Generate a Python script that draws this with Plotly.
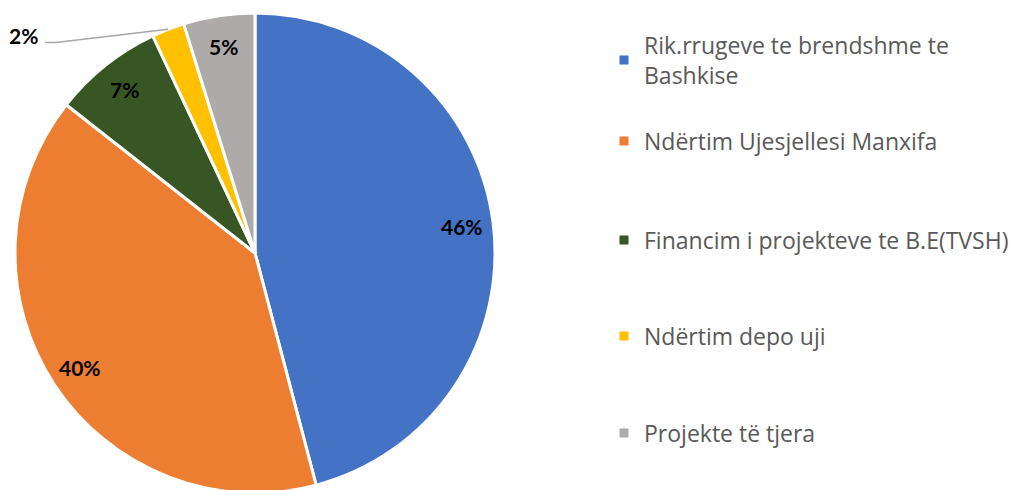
import math
import plotly.graph_objects as go

labels = ["Rik.rrugeve te brendshme te<br>Bashkise",
          "Ndërtim Ujesjellesi Manxifa",
          "Financim i projekteve te B.E(TVSH)",
          "Ndërtim depo uji",
          "Projekte të tjera"]
values = [45.9, 39.7, 7.4, 2.2, 4.8]
colors = ["#4472C4", "#ED7D31", "#375623", "#FFC000", "#AEAAAA"]
legend_centers = [60, 141, 240, 336, 433]  # page px from top

OFF = 8  # default body margin of the html page
W, H = 1021, 490

def px(xp):
    return (xp - OFF) / W

def py(yp):
    return 1 - (yp - OFF) / H

# pie: center (255, 253) page px, radius 240
PCX, PCY, PR = 255, 253, 240
dom_x = [px(PCX - PR), px(PCX + PR)]
dom_y = [py(PCY + PR), py(PCY - PR)]

fig = go.Figure()
fig.add_trace(go.Pie(
    labels=labels, values=values, sort=False, direction="clockwise", rotation=0,
    marker=dict(colors=colors, line=dict(color="white", width=3)),
    textinfo="none", hoverinfo="label+percent", showlegend=False,
    domain=dict(x=dom_x, y=dom_y),
))

total = sum(values)
cum = 0
annotations = []
shapes = []
lab_font = dict(family="Lato", size=21, color="black")
for i, v in enumerate(values):
    mid = (cum + v / 2) / total * 2 * math.pi
    cum += v
    txt = f"<b>{round(v / total * 100)}%</b>"
    if v / total >= 0.03:
        r = 0.87 * PR
        xp = PCX + r * math.sin(mid)
        yp = PCY - r * math.cos(mid)
        annotations.append(dict(x=px(xp), y=py(yp), xref="paper", yref="paper",
                                xanchor="center", yanchor="middle",
                                text=txt, showarrow=False, font=lab_font))
    else:
        x0 = PCX + PR * math.sin(mid)
        y0 = PCY - PR * math.cos(mid)
        x1, y1 = 56, 42.5
        x2, y2 = 45, 42.5
        shapes.append(dict(type="path", xref="paper", yref="paper",
                           path=f"M {px(x0)} {py(y0)} L {px(x1)} {py(y1)} L {px(x2)} {py(y2)}",
                           line=dict(color="#A6A6A6", width=1.5)))
        annotations.append(dict(x=px(23.5), y=py(35.5), xref="paper", yref="paper",
                                xanchor="center", yanchor="middle",
                                text=txt, showarrow=False, font=lab_font))

legend_layouts = {}
for i, (lab, col) in enumerate(zip(labels, colors)):
    key = "legend" if i == 0 else f"legend{i+1}"
    fig.add_trace(go.Scatter(x=[None], y=[None], mode="markers", name=lab,
                             marker=dict(symbol="square", size=9, color=col),
                             legend=key, showlegend=True, hoverinfo="skip"))
    legend_layouts[key] = dict(x=px(604), xanchor="left",
                               y=py(legend_centers[i]), yanchor="middle",
                               bgcolor="rgba(0,0,0,0)",
                               font=dict(family="Open Sans", size=23, color="#595959"))

fig.update_layout(
    width=W, height=H,
    margin=dict(l=0, r=0, t=0, b=0),
    paper_bgcolor="white", plot_bgcolor="white",
    xaxis=dict(visible=False), yaxis=dict(visible=False),
    annotations=annotations, shapes=shapes,
    **legend_layouts,
)

fig.write_html("out.html")
